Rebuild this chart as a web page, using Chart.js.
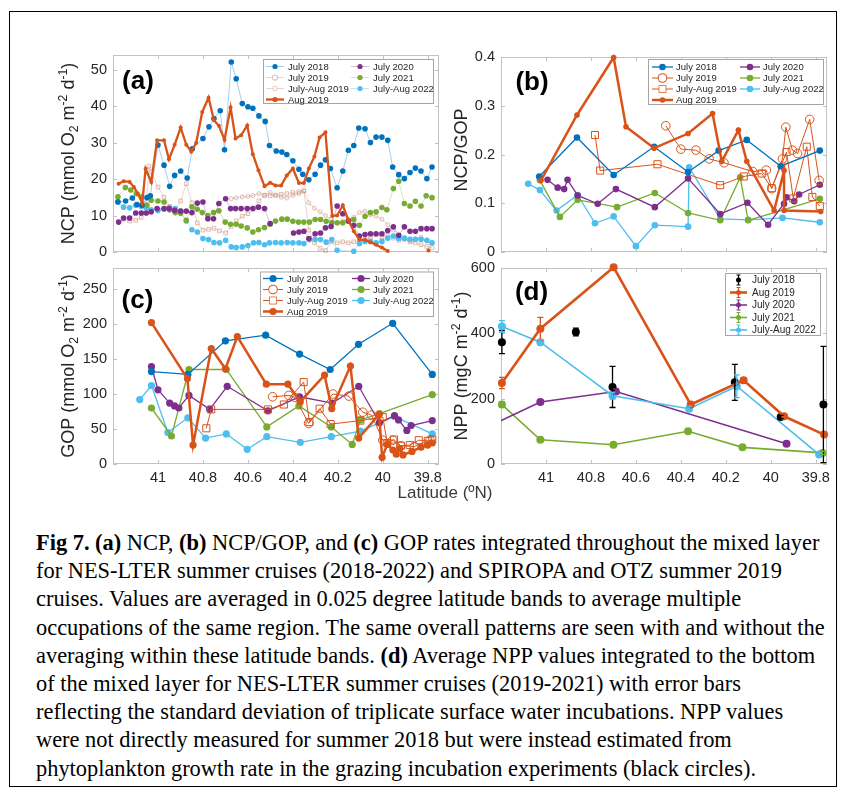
<!DOCTYPE html>
<html>
<head>
<meta charset="utf-8">
<script src="https://cdn.jsdelivr.net/npm/chart.js@4.4.1/dist/chart.umd.min.js"></script>
<style>
  body { margin: 0; background: #fff; }
  #wrap { position: relative; width: 841px; height: 793px; overflow: hidden; background: #fff; }
  #frame { position: absolute; left: 9px; top: 11px; width: 828px; height: 776px; border: 1.5px solid #000; box-sizing: border-box; }
  canvas { position: absolute; left: 0; top: 0; }
  #caption { position: absolute; left: 36px; top: 529px; font-family: "Liberation Serif", "Times New Roman", serif; font-size: 22.4px; color: #000; white-space: nowrap; }
  #caption div { height: 28.2px; line-height: 28.2px; }
</style>
</head>
<body>
<div id="wrap">
  <div id="frame"></div>
  <canvas id="pa" width="841" height="510"></canvas>
  <canvas id="pb" width="841" height="510"></canvas>
  <canvas id="pc" width="841" height="510"></canvas>
  <canvas id="pd" width="841" height="510"></canvas>
  <div id="caption">
    <div><b>Fig 7. (a)</b> NCP, <b>(b)</b> NCP/GOP, and <b>(c)</b> GOP rates integrated throughout the mixed layer</div>
    <div>for NES-LTER summer cruises (2018-2022) and SPIROPA and OTZ summer 2019</div>
    <div>cruises. Values are averaged in 0.025 degree latitude bands to average multiple</div>
    <div>occupations of the same region. The same overall patterns are seen with and without the</div>
    <div>averaging within these latitude bands. <b>(d)</b> Average NPP values integrated to the bottom</div>
    <div>of the mixed layer for NES-LTER summer cruises (2019-2021) with error bars</div>
    <div>reflecting the standard deviation of triplicate surface water incubations. NPP values</div>
    <div>were not directly measured for summer 2018 but were instead estimated from</div>
    <div>phytoplankton growth rate in the grazing incubation experiments (black circles).</div>
  </div>
</div>
<script>
// shared latitude axis
const latTicks = [41, 40.8, 40.6, 40.4, 40.2, 40, 39.8];
const latMin = 39.75, latMax = 41.2;

// (a) NCP
const ncpTicks = [0, 10, 20, 30, 40, 50];
const ncpLat2018 = [41.178,41.144,41.114,41.093,41.071,41.049,41.034,41.000,40.973,40.948,40.926,40.899,40.870,40.847,40.800,40.773,40.751,40.723,40.704,40.674,40.652,40.625,40.600,40.578,40.551,40.523,40.504,40.474,40.449,40.427,40.400,40.373,40.356,40.329,40.301,40.277,40.255,40.233,40.203,40.178,40.153,40.129,40.107,40.079,40.055,40.030,40.004,39.978,39.956,39.929,39.904,39.879,39.855,39.830,39.804,39.781];
const ncp2018 = [13.7,14.0,14.8,13.0,12.8,14.9,15.4,29.3,23.8,18.0,21.0,22.2,20.3,28.3,31.1,34.3,36.6,38.7,28.0,52.1,47.5,40.7,39.8,39.4,37.3,35.8,29.2,27.7,27.4,26.7,25.0,22.7,21.3,19.8,21.3,23.8,25.3,22.9,17.6,22.2,27.9,29.2,34.0,33.8,30.0,31.5,31.5,30.6,23.3,21.2,20.1,21.8,23.0,22.2,20.1,23.3];
const ncpLatJul2019 = [40.674,40.652,40.625,40.600,40.578,40.551,40.526,40.501,40.477,40.452,40.427,40.400,40.373,40.351,40.329,40.304,40.279,40.255,40.230,40.203,40.178,40.153,40.129,40.104,40.079,40.055,40.030,40.004,39.978,39.953,39.929,39.904,39.879,39.855,39.830,39.804,39.781];
const ncpJul2019 = [14.6,14.9,15.1,15.2,15.5,16.0,15.6,16.3,15.5,15.0,14.8,15.5,16.0,16.7,13.5,12.0,11.0,10.0,9.0,8.0,8.5,9.0,9.5,10.8,11.2,10.2,9.8,9.0,7.5,6.0,4.5,3.5,3.0,3.6,4.0,3.0,2.5];
const ncpLatJulAug2019 = [41.153,41.126,41.099,41.074,41.052,41.040,41.030,41.000,40.973,40.948,40.923,40.899,40.874,40.849,40.825,40.800,40.775,40.751,40.726,40.699,40.674,40.652,40.625,40.600,40.575,40.551,40.526,40.501,40.477,40.452,40.427,40.400,40.373,40.351,40.329,40.304,40.279,40.255,40.230,40.203,40.178,40.153,40.129,40.104,40.079,40.055,40.030,40.004,39.978,39.953,39.929,39.904,39.879,39.855,39.830,39.804,39.781];
const ncpJulAug2019 = [9.0,8.5,8.7,9.5,13.0,23.5,22.0,17.8,15.0,12.5,11.5,14.0,18.7,13.5,8.0,6.0,6.2,6.5,5.8,5.2,7.0,8.5,9.8,10.5,12.0,14.0,15.5,15.4,15.6,15.8,16.0,16.3,16.5,16.8,6.0,2.5,1.0,0.4,2.8,2.5,2.8,2.5,2.8,3.2,3.5,4.0,4.8,4.2,4.5,3.8,3.2,3.5,2.8,2.5,2.0,1.5,1.2];
const ncpLatAug2019 = [41.175,41.153,41.126,41.107,41.089,41.070,41.055,41.030,41.004,40.973,40.951,40.926,40.899,40.874,40.852,40.830,40.803,40.775,40.751,40.729,40.704,40.677,40.655,40.630,40.603,40.578,40.553,40.526,40.501,40.477,40.452,40.427,40.400,40.373,40.351,40.329,40.304,40.281,40.255,40.225,40.203,40.178,40.153,40.129,40.104,40.079,40.055,40.030,40.004,39.978,39.900,39.797];
const ncpAug2019 = [18.7,19.4,19.2,17.8,16.0,13.4,22.8,19.2,30.6,30.6,25.4,29.4,34.1,29.4,27.5,29.9,38.4,42.3,36.1,34.6,30.8,39.6,31.1,32.0,34.7,26.8,22.4,18.0,19.0,18.2,18.2,21.0,22.9,18.9,18.9,22.9,26.2,31.4,32.8,9.9,10.0,12.8,8.7,5.7,3.4,3.3,2.7,2.0,1.2,0.3,null,0.4];
const ncpLat2020 = [41.175,41.153,41.126,41.099,41.074,41.052,41.030,41.004,40.973,40.951,40.926,40.899,40.874,40.849,40.825,40.800,40.778,40.753,40.729,40.699,40.677,40.655,40.630,40.603,40.578,40.553,40.526,40.501,40.450,40.397,40.373,40.351,40.329,40.301,40.277,40.255,40.230,40.203,40.178,40.153,40.129,40.104,40.079,40.055,40.030,40.004,39.978,39.953,39.929,39.904,39.879,39.855,39.830,39.804,39.781];
const ncp2020 = [8.2,9.3,9.3,10.7,10.7,10.7,11.0,11.9,11.9,11.9,11.4,11.2,11.2,10.8,13.4,13.7,9.1,9.1,13.3,14.6,11.9,11.9,11.9,11.9,11.9,12.3,11.9,7.8,null,5.2,5.5,5.7,3.7,5.0,5.2,6.6,7.0,12.6,10.5,8.5,7.3,4.4,4.8,5.0,5.0,5.0,5.9,6.9,4.6,6.9,5.7,5.7,6.4,6.4,6.4];
const ncpLat2021 = [41.178,41.145,41.121,41.096,41.074,41.049,41.030,41.000,40.973,40.948,40.923,40.899,40.874,40.849,40.825,40.803,40.778,40.753,40.729,40.701,40.677,40.652,40.630,40.603,40.578,40.553,40.526,40.501,40.477,40.449,40.425,40.400,40.375,40.351,40.326,40.301,40.277,40.252,40.227,40.203,40.178,40.153,40.129,40.104,40.079,40.055,40.030,40.004,39.982,39.953,39.929,39.904,39.879,39.855,39.830,39.807,39.781];
const ncp2021 = [15.1,17.7,17.0,16.0,15.1,12.8,14.2,14.0,13.7,11.6,10.8,10.6,8.7,12.4,11.7,10.8,10.0,10.8,11.3,8.2,7.6,7.6,7.1,6.6,5.5,6.1,6.7,7.6,8.5,9.0,9.0,8.4,8.2,8.2,8.2,8.9,8.9,8.4,8.0,8.0,8.0,8.5,8.9,7.3,9.8,10.8,11.0,12.2,11.6,17.4,19.4,13.3,12.6,13.9,12.6,15.4,14.9];
const ncpLat2022 = [41.178,41.153,41.126,41.099,41.074,41.052,41.030,41.000,40.973,40.948,40.923,40.899,40.874,40.849,40.825,40.800,40.775,40.751,40.726,40.699,40.674,40.652,40.625,40.600,40.575,40.551,40.526,40.504,40.477,40.452,40.425,40.400,40.373,40.351,40.326,40.301,40.277,40.252,40.227,40.203,40.129,40.104,40.079,40.055,40.030,40.004,39.978,39.953,39.929,39.904,39.879,39.855,39.830,39.804,39.781];
const ncp2022 = [13.8,12.3,12.1,12.8,12.5,12.1,11.6,11.4,11.7,12.1,11.9,11.2,8.5,6.1,5.5,3.7,3.4,2.6,2.5,3.2,1.4,1.2,1.4,1.8,2.5,2.6,2.0,2.5,2.6,2.5,2.6,2.5,2.5,2.3,3.4,3.4,3.4,2.7,3.4,0.5,0.2,2.3,2.9,2.9,2.5,2.9,3.8,4.4,3.7,3.8,3.5,3.5,3.5,3.2,2.5];

// (b) NCP/GOP
const ratioTicks = [0, 0.1, 0.2, 0.3, 0.4];
const ratioLat2018 = [41.030,40.862,40.699,40.519,40.368,40.232,40.107,39.956,39.782];
const ratio2018 = [0.155,0.235,0.158,0.216,0.164,0.208,0.230,0.176,0.208];
const ratioLatJul2019 = [40.467,40.400,40.333,40.274,40.208,40.080,40.020,39.996,39.948,39.933,39.904,39.881,39.827,39.785];
const ratioJul2019 = [0.259,0.211,0.209,0.191,0.183,0.165,0.168,0.130,0.191,0.256,0.209,0.202,0.272,0.147];
const ratioLatJulAug2019 = [40.782,40.759,40.504,40.225,40.120,40.040,39.996,39.930,39.900,39.840,39.815,39.782];
const ratioJulAug2019 = [0.240,0.167,0.180,0.137,0.155,0.161,0.131,0.205,0.110,0.216,0.113,0.094];
const ratioLatAug2019 = [41.022,40.862,40.699,40.644,40.519,40.368,40.259,40.218,40.144,40.107,39.985,39.941,39.941,39.778];
const ratioAug2019 = [0.147,0.281,0.399,0.257,0.213,0.243,0.284,0.186,0.250,0.186,0.085,0.167,0.085,0.083];
const ratioLat2020 = [40.993,40.948,40.919,40.904,40.859,40.770,40.689,40.516,40.368,40.225,40.104,40.012,39.941,39.930,39.896,39.874,39.782];
const ratio2020 = [0.148,0.132,0.129,0.148,0.116,0.099,0.129,0.092,0.151,0.078,0.101,0.056,0.099,0.112,0.104,0.118,0.138];
const ratioLat2021 = [41.027,40.938,40.859,40.684,40.516,40.368,40.225,40.136,40.101,39.782];
const ratio2021 = [0.147,0.072,0.107,0.092,0.121,0.080,0.065,0.153,0.065,0.109];
const ratioLat2022 = [41.079,41.027,40.953,40.859,40.782,40.699,40.600,40.516,40.368,40.363,40.225,40.100,39.948,39.782];
const ratio2022 = [0.140,0.127,0.085,0.117,0.059,0.073,0.012,0.055,0.052,0.174,0.068,0.066,0.070,0.061];

// (c) GOP
const gopTicks = [0, 50, 100, 150, 200, 250];
const gopLat2018 = [41.029,40.867,40.700,40.521,40.370,40.234,40.108,39.956,39.780];
const gop2018 = [132,128,176,184,157,135,171,201,128];
const gopLatJul2019 = [40.490,40.418,40.390,40.330,40.222,40.151,40.089,40.050,40.000,39.956,39.920,39.860,39.790];
const gopJul2019 = [96,98,95,58,100,97,74,70,34,34,26,25,34];
const gopLatJulAug2019 = [40.785,40.763,40.511,40.440,40.352,40.326,40.281,40.232,40.100,40.000,39.980,39.950,39.920,39.880,39.840,39.800,39.780];
const gopJulAug2019 = [51,78,78,85,117,60,79,57,62,67,30,35,26,27,34,33,35];
const gopLatAug2019 = [41.029,40.869,40.844,40.763,40.700,40.647,40.518,40.422,40.367,40.259,40.227,40.144,40.107,40.016,40.003,39.980,39.955,39.940,39.925,39.910,39.870,39.830,39.800,39.780];
const gopAug2019 = [202,122,27,165,136,182,114,114,89,127,79,140,37,71,9.5,28,20,14,22,13,18,24,27,30];
const gopLat2020 = [41.029,41.000,40.948,40.926,40.907,40.862,40.770,40.692,40.511,40.370,40.225,40.107,40.015,39.948,39.930,39.893,39.874,39.780];
const gop2020 = [139,106,87,83,80,98,78,111,76,96,87,111,59,69,63,48,55,62];
const gopLat2021 = [41.029,40.940,40.862,40.696,40.516,40.373,40.229,40.136,40.100,40.015,39.780];
const gop2021 = [80,40,135,135,53,83,53,28,63,72,99];
const gopLat2022 = [41.081,41.029,40.956,40.867,40.788,40.696,40.603,40.516,40.367,40.229,40.100,39.948,39.780];
const gop2022 = [92,112,45,66,37,43,21,39,31,39,47,68,43];

// (d) NPP with standard deviations
const nppTicks = [0, 200, 400, 600];
const nppLat2018 = [41.196,40.867,40.704,40.160,39.956,39.766];
const npp2018 = [373,404,236,250,144,182];
const nppErr2018 = [35,12,63,55,5,178];
const nppLatAug2019 = [41.196,41.025,40.699,40.356,40.121,39.941,39.763];
const nppAug2019 = [248,414,602,182,256,146,90];
const nppErrAug2019 = [17,35,0,8,8,5,5];
const nppLat2020 = [41.300,41.025,40.689,39.930];
const npp2020 = [100,190,222,62];
const nppErr2020 = [0,6,8,5];
const nppLat2021 = [41.196,41.025,40.700,40.368,40.126,39.770];
const npp2021 = [182,74,59,100,51,34];
const nppErr2021 = [8,5,5,5,5,5];
const nppLat2022 = [41.196,41.025,40.704,40.363,40.151,39.785];
const npp2022 = [421,373,209,169,238,29];
const nppErr2022 = [18,8,10,8,35,5];

const C18 = '#0072BD', C19 = '#D95319', C20 = '#7E2F8E', C21 = '#77AC30', C22 = '#4DBEEE';
const SANS = "'Liberation Sans', Arial, sans-serif";
const TXT = '#262626';

function series(label, lat, val, style) {
  return Object.assign({
    label,
    data: lat.map((x, i) => ({x, y: val[i]})),
    clip: false,
    tension: 0,
    pointBorderWidth: 0,
    pointHoverRadius: 0
  }, style);
}

function marker(ctx, style, r, x, y) {
  ctx.beginPath();
  if (style === 'rect') {
    const s = r * Math.SQRT1_2;
    ctx.rect(x - s, y - s, 2 * s, 2 * s);
  } else {
    ctx.arc(x, y, r, 0, Math.PI * 2);
  }
  ctx.fill();
}

// MATLAB-like axes: light box with inward ticks on all sides
const axesBox = {
  id: 'axesBox',
  beforeDatasetsDraw(chart) {
    const {ctx, chartArea: a, scales: {x, y}} = chart;
    ctx.save();
    ctx.strokeStyle = '#c2c2c2';
    ctx.lineWidth = 1;
    ctx.strokeRect(Math.round(a.left) + 0.5, Math.round(a.top) + 0.5, Math.round(a.width) - 1, Math.round(a.height) - 1);
    ctx.beginPath();
    x.ticks.forEach(t => {
      const px = Math.round(x.getPixelForValue(t.value)) + 0.5;
      ctx.moveTo(px, a.bottom); ctx.lineTo(px, a.bottom - 4);
      ctx.moveTo(px, a.top); ctx.lineTo(px, a.top + 4);
    });
    y.ticks.forEach(t => {
      const py = Math.round(y.getPixelForValue(t.value)) + 0.5;
      ctx.moveTo(a.left, py); ctx.lineTo(a.left + 4, py);
      ctx.moveTo(a.right, py); ctx.lineTo(a.right - 4, py);
    });
    ctx.stroke();
    ctx.restore();
  }
};

const errorBars = {
  id: 'errorBars',
  afterDatasetsDraw(chart, args, o) {
    if (!o.sets) return;
    const ctx = chart.ctx, ys = chart.scales.y;
    o.sets.forEach(s => {
      const ds = chart.data.datasets[s.ds];
      const meta = chart.getDatasetMeta(s.ds);
      ctx.save();
      ctx.strokeStyle = ds.pointBackgroundColor;
      ctx.lineWidth = 1.3;
      ctx.beginPath();
      s.err.forEach((e, i) => {
        const v = ds.data[i].y;
        if (v == null || !e) return;
        const px = meta.data[i].x;
        if (px < chart.chartArea.left - 5) return;
        const top = ys.getPixelForValue(v + e), bot = ys.getPixelForValue(v - e);
        ctx.moveTo(px, top); ctx.lineTo(px, bot);
        ctx.moveTo(px - 3, top); ctx.lineTo(px + 3, top);
        ctx.moveTo(px - 3, bot); ctx.lineTo(px + 3, bot);
      });
      ctx.stroke();
      ctx.restore();
    });
  }
};

const boxLegend = {
  id: 'boxLegend',
  afterDraw(chart, args, o) {
    if (!o.items) return;
    const ctx = chart.ctx;
    const [x0, y0, x1, y1] = o.box;
    ctx.save();
    ctx.fillStyle = '#fff';
    ctx.fillRect(x0, y0, x1 - x0, y1 - y0);
    ctx.strokeStyle = '#a6a6a6';
    ctx.lineWidth = 1;
    ctx.strokeRect(x0 + 0.5, y0 + 0.5, x1 - x0 - 1, y1 - y0 - 1);
    o.items.forEach(it => {
      const ds = chart.data.datasets[it.ds];
      const cx = (it.x0 + it.x1) / 2;
      if (ds.showLine !== false) {
        ctx.strokeStyle = ds.borderColor;
        ctx.lineWidth = ds.borderWidth;
        ctx.beginPath(); ctx.moveTo(it.x0, it.y); ctx.lineTo(it.x1, it.y); ctx.stroke();
      }
      if (o.errStyle) {
        ctx.strokeStyle = ds.pointBackgroundColor;
        ctx.lineWidth = 1.2;
        ctx.beginPath();
        ctx.moveTo(cx, it.y - 5); ctx.lineTo(cx, it.y + 5);
        ctx.moveTo(cx - 2, it.y - 5); ctx.lineTo(cx + 2, it.y - 5);
        ctx.moveTo(cx - 2, it.y + 5); ctx.lineTo(cx + 2, it.y + 5);
        ctx.stroke();
      }
      const r = o.r || ds.pointRadius;
      if (ds.pointBorderWidth > 0) {
        ctx.fillStyle = ds.pointBorderColor;
        marker(ctx, ds.pointStyle, r + ds.pointBorderWidth / 2, cx, it.y);
        ctx.fillStyle = '#fff';
        marker(ctx, ds.pointStyle, r - ds.pointBorderWidth / 2, cx, it.y);
      } else {
        ctx.fillStyle = ds.pointBackgroundColor;
        marker(ctx, ds.pointStyle, r, cx, it.y);
      }
      ctx.fillStyle = TXT;
      ctx.font = `${o.size}px ${SANS}`;
      ctx.textBaseline = 'middle';
      ctx.textAlign = 'left';
      ctx.fillText(ds.label, it.tx, it.y + 0.5);
    });
    ctx.restore();
  }
};

// text with sub/superscripts, optionally rotated
const richText = {
  id: 'richText',
  afterDraw(chart, args, o) {
    if (!o.items) return;
    const ctx = chart.ctx;
    o.items.forEach(it => {
      ctx.save();
      ctx.translate(it.x, it.y);
      if (it.rot) ctx.rotate(-Math.PI / 2);
      const w = it.weight || 'normal';
      const big = `${w} ${it.size}px ${SANS}`;
      const small = `${w} ${it.size * 0.68}px ${SANS}`;
      let total = 0;
      const parts = it.parts.map(p => {
        ctx.font = p[1] ? small : big;
        const pw = ctx.measureText(p[0]).width;
        total += pw;
        return {t: p[0], k: p[1], w: pw};
      });
      let cx = -total / 2;
      ctx.fillStyle = it.color || TXT;
      ctx.textBaseline = 'alphabetic';
      ctx.textAlign = 'left';
      parts.forEach(p => {
        ctx.font = p.k ? small : big;
        const dy = p.k === 'sub' ? it.size * 0.22 : p.k === 'sup' ? -it.size * 0.42 : 0;
        ctx.fillText(p.t, cx, it.size * 0.36 + dy);
        cx += p.w;
      });
      ctx.restore();
    });
  }
};

function panel(id, box, yMax, yTicks, yFmt, showX, datasets, plugOpts) {
  const W = 841, H = 510, yW = 50, xH = showX ? 30 : 0;
  return new Chart(document.getElementById(id), {
    type: 'line',
    data: {datasets},
    options: {
      responsive: false,
      animation: false,
      events: [],
      layout: {padding: {left: box.l - yW, top: box.t, right: W - box.r, bottom: H - box.b - xH}},
      plugins: Object.assign({legend: {display: false}, tooltip: {enabled: false}}, plugOpts),
      scales: {
        x: {
          type: 'linear', reverse: true, min: latMin, max: latMax,
          afterBuildTicks: s => { s.ticks = latTicks.map(v => ({value: v})); },
          afterFit: s => { s.height = xH; },
          grid: {display: false, drawTicks: false},
          border: {display: false},
          ticks: {display: showX, padding: 5, color: TXT, autoSkip: false, maxRotation: 0,
            font: {family: SANS, size: 14.5}, callback: v => String(v)}
        },
        y: {
          min: 0, max: yMax,
          afterBuildTicks: s => { s.ticks = yTicks.map(v => ({value: v})); },
          afterFit: s => { s.width = yW; },
          grid: {display: false, drawTicks: false},
          border: {display: false},
          ticks: {padding: 6, color: TXT, font: {family: SANS, size: 14.5}, callback: yFmt}
        }
      }
    },
    plugins: [axesBox, errorBars, boxLegend, richText]
  });
}

const unitParts = (name) => [[name + ' (mmol O'], ['2', 'sub'], [' m'], ['-2', 'sup'], [' d'], ['-1', 'sup'], [')']];
const paleLine = 'rgba(200,130,105,0.35)';
const palePoint = 'rgba(200,130,105,0.5)';

// ---- (a)
panel('pa', {l: 113, t: 55, r: 439, b: 252}, 54, ncpTicks, v => String(v), false, [
  series('Aug 2019', ncpLatAug2019, ncpAug2019, {borderColor: C19, borderWidth: 2.3, pointRadius: 2, pointBackgroundColor: C19}),
  series('July 2018', ncpLat2018, ncp2018, {borderColor: 'rgba(0,114,189,0.35)', borderWidth: 1, pointRadius: 2.8, pointBackgroundColor: C18}),
  series('July 2020', ncpLat2020, ncp2020, {borderColor: 'rgba(126,47,142,0.3)', borderWidth: 1, pointRadius: 2.8, pointBackgroundColor: C20}),
  series('July 2021', ncpLat2021, ncp2021, {borderColor: 'rgba(119,172,48,0.3)', borderWidth: 1, pointRadius: 2.8, pointBackgroundColor: C21}),
  series('July-Aug 2022', ncpLat2022, ncp2022, {borderColor: 'rgba(77,190,238,0.35)', borderWidth: 1, pointRadius: 2.8, pointBackgroundColor: C22}),
  series('July 2019', ncpLatJul2019, ncpJul2019, {borderColor: paleLine, borderWidth: 1, pointRadius: 2, pointBackgroundColor: 'rgba(255,255,255,0)', pointBorderColor: palePoint, pointBorderWidth: 1}),
  series('July-Aug 2019', ncpLatJulAug2019, ncpJulAug2019, {borderColor: paleLine, borderWidth: 1, pointRadius: 2.6, pointStyle: 'rect', pointBackgroundColor: 'rgba(255,255,255,0)', pointBorderColor: palePoint, pointBorderWidth: 1})
], {
  boxLegend: {box: [263, 59, 434, 104], size: 9.5, r: 2.6, items: [
    {ds: 1, x0: 266, x1: 284, tx: 288, y: 66.5},
    {ds: 5, x0: 266, x1: 284, tx: 288, y: 77.5},
    {ds: 6, x0: 266, x1: 284, tx: 288, y: 88.5},
    {ds: 0, x0: 266, x1: 284, tx: 288, y: 99.5},
    {ds: 2, x0: 351, x1: 369, tx: 373, y: 66.5},
    {ds: 3, x0: 351, x1: 369, tx: 373, y: 77.5},
    {ds: 4, x0: 351, x1: 369, tx: 373, y: 88.5}
  ]},
  richText: {items: [
    {parts: unitParts('NCP'), x: 68, y: 153.5, size: 18, rot: true},
    {parts: [['(a)']], x: 138, y: 80, size: 26, weight: 'bold', color: '#000'}
  ]}
});

// ---- (b)
const bStyle = (c, extra) => Object.assign({borderColor: c, borderWidth: 1.3, pointRadius: 3.3, pointBackgroundColor: c}, extra);
panel('pb', {l: 501, t: 57, r: 827, b: 252}, 0.4, ratioTicks, v => v === 0 ? '0' : v.toFixed(1), false, [
  series('Aug 2019', ratioLatAug2019, ratioAug2019, bStyle(C19, {borderWidth: 2.5, pointRadius: 2.8})),
  series('July 2018', ratioLat2018, ratio2018, bStyle(C18)),
  series('July 2019', ratioLatJul2019, ratioJul2019, bStyle(C19, {borderWidth: 1, pointRadius: 4.3, pointBackgroundColor: 'rgba(255,255,255,0)', pointBorderColor: C19, pointBorderWidth: 1})),
  series('July-Aug 2019', ratioLatJulAug2019, ratioJulAug2019, bStyle(C19, {borderWidth: 1, pointRadius: 5, pointStyle: 'rect', pointBackgroundColor: 'rgba(255,255,255,0)', pointBorderColor: C19, pointBorderWidth: 1})),
  series('July 2020', ratioLat2020, ratio2020, bStyle(C20)),
  series('July 2021', ratioLat2021, ratio2021, bStyle(C21)),
  series('July-Aug 2022', ratioLat2022, ratio2022, bStyle(C22))
], {
  boxLegend: {box: [648, 59, 824, 105], size: 9.5, items: [
    {ds: 1, x0: 652, x1: 673, tx: 676, y: 67},
    {ds: 2, x0: 652, x1: 673, tx: 676, y: 78},
    {ds: 3, x0: 652, x1: 673, tx: 676, y: 89},
    {ds: 0, x0: 652, x1: 673, tx: 676, y: 100},
    {ds: 4, x0: 740, x1: 760, tx: 763, y: 67},
    {ds: 5, x0: 740, x1: 760, tx: 763, y: 78},
    {ds: 6, x0: 740, x1: 760, tx: 763, y: 89}
  ]},
  richText: {items: [
    {parts: [['NCP/GOP']], x: 461, y: 150, size: 18, rot: true},
    {parts: [['(b)']], x: 532, y: 81, size: 26, weight: 'bold', color: '#000'}
  ]}
});

// ---- (c)
const cStyle = (c, extra) => Object.assign({borderColor: c, borderWidth: 1.3, pointRadius: 3.6, pointBackgroundColor: c}, extra);
panel('pc', {l: 113, t: 268, r: 439, b: 464}, 280, gopTicks, v => String(v), true, [
  series('Aug 2019', gopLatAug2019, gopAug2019, cStyle(C19, {borderWidth: 2.5, pointRadius: 3.6})),
  series('July 2018', gopLat2018, gop2018, cStyle(C18)),
  series('July 2019', gopLatJul2019, gopJul2019, cStyle(C19, {borderWidth: 1, pointRadius: 4.3, pointBackgroundColor: 'rgba(255,255,255,0)', pointBorderColor: C19, pointBorderWidth: 1})),
  series('July-Aug 2019', gopLatJulAug2019, gopJulAug2019, cStyle(C19, {borderWidth: 1, pointRadius: 5, pointStyle: 'rect', pointBackgroundColor: 'rgba(255,255,255,0)', pointBorderColor: C19, pointBorderWidth: 1})),
  series('July 2020', gopLat2020, gop2020, cStyle(C20)),
  series('July 2021', gopLat2021, gop2021, cStyle(C21)),
  series('July-Aug 2022', gopLat2022, gop2022, cStyle(C22))
], {
  boxLegend: {box: [260, 271.5, 434, 317], size: 9.5, items: [
    {ds: 1, x0: 263, x1: 283, tx: 287, y: 278.5},
    {ds: 2, x0: 263, x1: 283, tx: 287, y: 289.5},
    {ds: 3, x0: 263, x1: 283, tx: 287, y: 300.5},
    {ds: 0, x0: 263, x1: 283, tx: 287, y: 311.5},
    {ds: 4, x0: 352, x1: 370, tx: 373, y: 278.5},
    {ds: 5, x0: 352, x1: 370, tx: 373, y: 289.5},
    {ds: 6, x0: 352, x1: 370, tx: 373, y: 300.5}
  ]},
  richText: {items: [
    {parts: unitParts('GOP'), x: 68, y: 366, size: 18, rot: true},
    {parts: [['(c)']], x: 137.5, y: 299, size: 26, weight: 'bold', color: '#000'},
    {parts: [['Latitude (ºN)']], x: 445, y: 492, size: 17, color: '#3a3a3a'}
  ]}
});

// ---- (d)
const dStyle = (c, extra) => Object.assign({borderColor: c, borderWidth: 1.6, pointRadius: 4, pointBackgroundColor: c}, extra);
panel('pd', {l: 501, t: 268, r: 827, b: 464}, 600, nppTicks, v => String(v), true, [
  series('Aug 2019', nppLatAug2019, nppAug2019, dStyle(C19, {borderWidth: 2.6})),
  series('July 2018', nppLat2018, npp2018, dStyle('#000', {showLine: false})),
  series('July-Aug 2022', nppLat2022, npp2022, dStyle(C22)),
  series('July 2020', nppLat2020, npp2020, dStyle(C20, {clip: 0})),
  series('July 2021', nppLat2021, npp2021, dStyle(C21))
], {
  errorBars: {sets: [
    {ds: 0, err: nppErrAug2019}, {ds: 1, err: nppErr2018}, {ds: 2, err: nppErr2022},
    {ds: 3, err: nppErr2020}, {ds: 4, err: nppErr2021}
  ]},
  boxLegend: {box: [725, 273, 821, 336], size: 10, r: 2.5, errStyle: true, items: [
    {ds: 1, x0: 730, x1: 747, tx: 752, y: 280},
    {ds: 0, x0: 730, x1: 747, tx: 752, y: 292.5},
    {ds: 3, x0: 730, x1: 747, tx: 752, y: 305},
    {ds: 4, x0: 730, x1: 747, tx: 752, y: 317.5},
    {ds: 2, x0: 730, x1: 747, tx: 752, y: 330}
  ]},
  richText: {items: [
    {parts: [['NPP (mgC m'], ['-2', 'sup'], [' d'], ['-1', 'sup'], [')']], x: 461, y: 366, size: 18, rot: true},
    {parts: [['(d)']], x: 531.5, y: 291, size: 26, weight: 'bold', color: '#000'}
  ]}
});
</script>
</body>
</html>
